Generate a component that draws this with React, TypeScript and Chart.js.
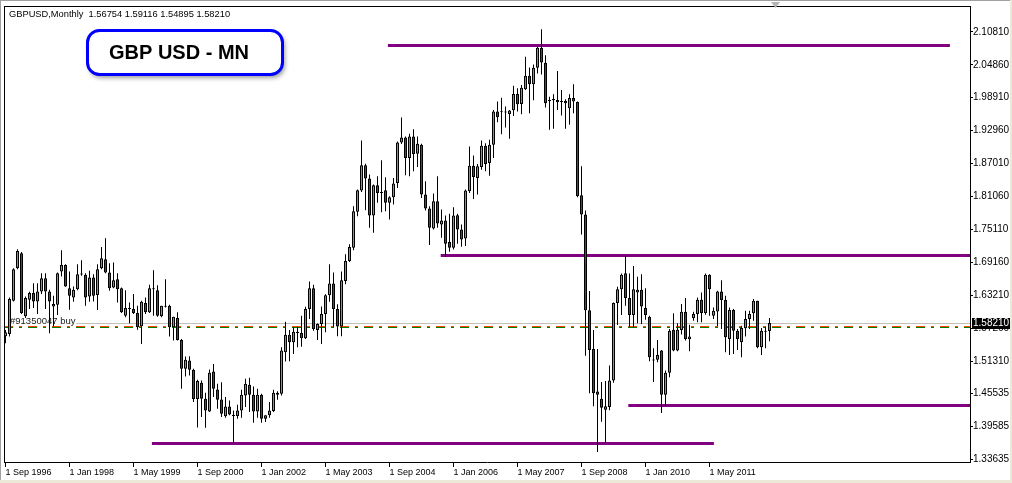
import { useEffect, useRef } from "react";
import { Chart, registerables } from "chart.js";

Chart.register(...registerables);

// Monthly GBPUSD bars, first bar = Sep 1996
const opens = [
  1.5581, 1.5623, 1.6223, 1.6811, 1.7081, 1.5941, 1.6241, 1.6361, 1.6211, 1.6391,
  1.6631, 1.6391, 1.6121, 1.6151, 1.6751, 1.6871, 1.6451, 1.6283, 1.6433, 1.6703,
  1.6691, 1.6301, 1.6643, 1.6325, 1.6811, 1.6973, 1.6733, 1.6463, 1.6613, 1.6451,
  1.5953, 1.6091, 1.6073, 1.6001, 1.5761, 1.6181, 1.6013, 1.6445, 1.6415, 1.5941,
  1.6127, 1.6133, 1.5743, 1.5911, 1.5515, 1.4993, 1.5143, 1.4975, 1.4447, 1.4740,
  1.4452, 1.4224, 1.4944, 1.4620, 1.4440, 1.4134, 1.4314, 1.4164, 1.4140, 1.4242,
  1.4512, 1.4704, 1.4524, 1.4224, 1.4524, 1.4092, 1.4152, 1.4230, 1.4560, 1.4542,
  1.5292, 1.5610, 1.5472, 1.5664, 1.5640, 1.5544, 1.6072, 1.6450, 1.5694, 1.5802,
  1.5982, 1.6324, 1.6534, 1.6072, 1.5760, 1.6582, 1.6942, 1.7182, 1.7830, 1.8214,
  1.8670, 1.8430, 1.7764, 1.8310, 1.8184, 1.8220, 1.7992, 1.8094, 1.8352, 1.9083,
  1.9173, 1.8801, 1.9191, 1.8879, 1.9041, 1.8141, 1.7889, 1.7529, 1.8021, 1.7601,
  1.7673, 1.7283, 1.7181, 1.7769, 1.7511, 1.7349, 1.8201, 1.8663, 1.8441, 1.8639,
  1.9023, 1.8711, 1.9041, 1.9641, 1.9635, 1.9641, 1.9599, 1.9665, 1.9959, 1.9779,
  2.0043, 2.0289, 2.0133, 2.0433, 2.0793, 2.0523, 1.9851, 1.9845, 1.9851, 1.9833,
  1.9833, 1.9701, 1.9887, 1.9815, 1.8129, 1.7781, 1.6053, 1.5351, 1.4585, 1.4453,
  1.4255, 1.4303, 1.4783, 1.6181, 1.6433, 1.6721, 1.6271, 1.5965, 1.6373, 1.6421,
  1.6091, 1.5935, 1.5161, 1.5155, 1.5323, 1.4525, 1.4921, 1.5701, 1.5323, 1.5695,
  1.6025, 1.5527, 1.5905, 1.5983, 1.6241, 1.6001, 1.6691, 1.5953, 1.6031, 1.6391,
  1.6235, 1.5533, 1.6055, 1.5683, 1.5473, 1.5725, 1.5893, 1.5995, 1.6223, 1.5383,
  1.5665, 1.56754,
];

const highs = [
  1.5695, 1.6283, 1.6811, 1.7153, 1.7105, 1.6301, 1.6385, 1.6541, 1.6541, 1.6721,
  1.6721, 1.6421, 1.6313, 1.6733, 1.7135, 1.6883, 1.6751, 1.6481, 1.6883, 1.6955,
  1.6721, 1.6763, 1.6703, 1.6883, 1.7195, 1.7351, 1.6901, 1.6913, 1.6721, 1.6463,
  1.6415, 1.6193, 1.6343, 1.6133, 1.6223, 1.6283, 1.6511, 1.6775, 1.6505, 1.6133,
  1.6613, 1.6151, 1.5935, 1.6013, 1.5533, 1.5215, 1.5221, 1.4993, 1.4795, 1.4782,
  1.4560, 1.4980, 1.5082, 1.4722, 1.4752, 1.4482, 1.4422, 1.4242, 1.4344, 1.4614,
  1.4812, 1.4830, 1.4674, 1.4632, 1.4542, 1.4152, 1.4392, 1.4614, 1.4590, 1.5382,
  1.5844, 1.5694, 1.5742, 1.5754, 1.5952, 1.6114, 1.6570, 1.6510, 1.5814, 1.6120,
  1.6342, 1.6882, 1.6732, 1.6162, 1.6750, 1.7062, 1.7242, 1.7932, 1.8232, 1.9120,
  1.8700, 1.8502, 1.8322, 1.8472, 1.8760, 1.8454, 1.8112, 1.8442, 1.9102, 1.9533,
  1.9191, 1.9239, 1.9323, 1.9191, 1.9059, 1.8381, 1.7931, 1.8159, 1.8471, 1.7871,
  1.7763, 1.7793, 1.7913, 1.7793, 1.7601, 1.8231, 1.9011, 1.8849, 1.8693, 1.9119,
  1.9071, 1.9131, 1.9671, 1.9821, 1.9893, 1.9731, 1.9671, 2.0109, 2.0061, 2.0121,
  2.0631, 2.0439, 2.0493, 2.0811, 2.1129, 2.0661, 1.9911, 1.9953, 2.0373, 2.0031,
  1.9863, 1.9953, 2.0133, 1.9821, 1.8651, 1.7853, 1.6401, 1.5693, 1.5351, 1.4753,
  1.4771, 1.5053, 1.6193, 1.6475, 1.6715, 1.7033, 1.6715, 1.6853, 1.6655, 1.6703,
  1.6451, 1.5953, 1.5365, 1.5515, 1.5335, 1.4963, 1.5713, 1.5995, 1.5815, 1.6163,
  1.6271, 1.5791, 1.6025, 1.6283, 1.6373, 1.6715, 1.6703, 1.6103, 1.6403, 1.6595,
  1.6313, 1.6103, 1.6073, 1.5713, 1.5773, 1.6043, 1.6043, 1.6253, 1.6223, 1.5731,
  1.5755, 1.59116,
];

const lows = [
  1.5455, 1.5575, 1.6211, 1.6793, 1.5983, 1.5911, 1.6073, 1.6091, 1.5983, 1.6343,
  1.6073, 1.5635, 1.5761, 1.5965, 1.6661, 1.6475, 1.6061, 1.6205, 1.6415, 1.6673,
  1.6133, 1.6205, 1.6211, 1.6055, 1.6793, 1.6721, 1.6403, 1.6451, 1.6193, 1.6001,
  1.5923, 1.5815, 1.5983, 1.5701, 1.5443, 1.5983, 1.6001, 1.5953, 1.5935, 1.5923,
  1.6103, 1.5575, 1.5503, 1.5503, 1.4633, 1.4855, 1.4873, 1.4393, 1.3931, 1.4122,
  1.3930, 1.4212, 1.4482, 1.4272, 1.4122, 1.4110, 1.4152, 1.3654, 1.4092, 1.4110,
  1.4302, 1.4212, 1.4020, 1.4110, 1.4020, 1.4032, 1.4110, 1.4212, 1.4434, 1.4512,
  1.5124, 1.5130, 1.5262, 1.5382, 1.5394, 1.5532, 1.5892, 1.5682, 1.5514, 1.5442,
  1.5652, 1.6204, 1.5742, 1.5580, 1.5580, 1.6522, 1.6924, 1.7134, 1.7752, 1.8190,
  1.7860, 1.7542, 1.7452, 1.7992, 1.7824, 1.7842, 1.7692, 1.7962, 1.8262, 1.9053,
  1.8489, 1.8471, 1.8561, 1.8639, 1.8081, 1.7853, 1.7229, 1.7511, 1.7541, 1.7361,
  1.7013, 1.7109, 1.7151, 1.7253, 1.7199, 1.7211, 1.8171, 1.8063, 1.8141, 1.8591,
  1.8561, 1.8483, 1.8801, 1.9449, 1.9233, 1.9353, 1.9149, 1.9563, 1.9641, 1.9593,
  2.0031, 1.9611, 1.9845, 2.0331, 2.0313, 1.9713, 1.9311, 1.9329, 1.9671, 1.9569,
  1.9329, 1.9401, 1.9611, 1.8093, 1.7421, 1.5231, 1.4553, 1.4319, 1.3490, 1.4035,
  1.3652, 1.4245, 1.4741, 1.5785, 1.5965, 1.6133, 1.5743, 1.5743, 1.5815, 1.5803,
  1.5881, 1.5131, 1.4753, 1.5113, 1.4195, 1.4321, 1.4843, 1.5311, 1.5311, 1.5611,
  1.5503, 1.5311, 1.5863, 1.5833, 1.5833, 1.5971, 1.5953, 1.5893, 1.5761, 1.5713,
  1.5293, 1.5245, 1.5263, 1.5335, 1.5203, 1.5575, 1.5713, 1.5863, 1.5365, 1.5245,
  1.5365, 1.54895,
];

const closes = [
  1.5653, 1.6253, 1.6793, 1.7123, 1.6001, 1.6271, 1.6361, 1.6211, 1.6391, 1.6631,
  1.6391, 1.6211, 1.6163, 1.6721, 1.6871, 1.6481, 1.6313, 1.6421, 1.6703, 1.6697,
  1.6283, 1.6643, 1.6313, 1.6793, 1.6991, 1.6733, 1.6451, 1.6595, 1.6433, 1.6013,
  1.6091, 1.6073, 1.6001, 1.5743, 1.6205, 1.6013, 1.6451, 1.6433, 1.5953, 1.6133,
  1.6115, 1.5743, 1.5935, 1.5515, 1.4993, 1.5155, 1.4975, 1.4447, 1.4771, 1.4452,
  1.4242, 1.4920, 1.4632, 1.4434, 1.4182, 1.4314, 1.4170, 1.4140, 1.4242, 1.4524,
  1.4722, 1.4524, 1.4224, 1.4524, 1.4092, 1.4152, 1.4242, 1.4560, 1.4524, 1.5322,
  1.5610, 1.5472, 1.5664, 1.5640, 1.5544, 1.6072, 1.6450, 1.5712, 1.5802, 1.5982,
  1.6324, 1.6534, 1.6072, 1.5760, 1.6594, 1.6942, 1.7194, 1.7842, 1.8220, 1.8670,
  1.8430, 1.7764, 1.8310, 1.8172, 1.8172, 1.7992, 1.8094, 1.8340, 1.9084, 1.9173,
  1.8801, 1.9191, 1.8873, 1.9059, 1.8141, 1.7889, 1.7541, 1.8021, 1.7619, 1.7673,
  1.7253, 1.7181, 1.7763, 1.7511, 1.7331, 1.8213, 1.8663, 1.8459, 1.8651, 1.9023,
  1.8693, 1.9041, 1.9641, 1.9539, 1.9629, 1.9623, 1.9659, 1.9959, 1.9773, 2.0073,
  2.0289, 2.0133, 2.0433, 2.0793, 2.0529, 1.9791, 1.9833, 1.9869, 1.9809, 1.9815,
  1.9791, 1.9887, 1.9821, 1.8111, 1.7781, 1.6053, 1.5333, 1.4553, 1.4525, 1.4291,
  1.4315, 1.4783, 1.6181, 1.6433, 1.6691, 1.6271, 1.5965, 1.6433, 1.6421, 1.6121,
  1.5965, 1.5203, 1.5143, 1.5245, 1.4525, 1.4921, 1.5683, 1.5323, 1.5701, 1.6025,
  1.5533, 1.5575, 1.5983, 1.6241, 1.6001, 1.6691, 1.6433, 1.6043, 1.6391, 1.6235,
  1.5563, 1.6055, 1.5683, 1.5533, 1.5731, 1.5893, 1.5983, 1.6223, 1.5383, 1.5683,
  1.5683, 1.58210,
];

// Time axis: bar index of each date label
const dateTickIndex = [0, 16, 32, 48, 64, 80, 96, 112, 128, 144, 160, 176];
const dateTickLabels = [
  "1 Sep 1996", "1 Jan 1998", "1 May 1999", "1 Sep 2000", "1 Jan 2002", "1 May 2003",
  "1 Sep 2004", "1 Jan 2006", "1 May 2007", "1 Sep 2008", "1 Jan 2010", "1 May 2011",
];

// Price axis
const priceTicks = [
  2.1081, 2.0486, 1.9891, 1.9296, 1.8701, 1.8106, 1.7511,
  1.6916, 1.6321, 1.5726, 1.5131, 1.45535, 1.39585, 1.33635,
];

// Support / resistance levels (price, first bar, last bar)
const levelPrices = [2.0835, 1.7046, 1.4335, 1.3646];
const levelFrom = [95.6, 108.8, 155.7, 36.6];
const levelTo = [236.1, 245, 245, 177.1];

const bidPrice = 1.5821;
const orderPrice = 1.5762;
const orderLabel = "#91350047 buy";
const headerText = "GBPUSD,Monthly  1.56754 1.59116 1.54895 1.58210";
const titleText = "GBP USD - MN";

const X_MIN = -0.375;
const X_MAX = 241.125;
const Y_MIN = 1.33095;
const Y_MAX = 2.15487;

const FONT = "'Liberation Sans', Arial, sans-serif";
const BULL = "#32CD32";
const BEAR = "#FF0000";
const LEVEL = "#800080";

const terminalDecor = {
  id: "terminalDecor",
  beforeDraw(chart: any) {
    const { ctx, width, height } = chart;
    ctx.save();
    ctx.fillStyle = "#ECE9D8";
    ctx.fillRect(0, 0, width, height);
    ctx.fillStyle = "#FFFFFF";
    ctx.fillRect(0, 0, width - 2, height - 3);
    ctx.fillStyle = "#A0A0A0";
    ctx.fillRect(0, 0, width - 2, 1);
    ctx.fillRect(0, 0, 1, height - 3);
    ctx.restore();
  },
  beforeDatasetsDraw(chart: any) {
    const { ctx, chartArea: a, scales } = chart;
    const xs = scales.x;
    const ys = scales.y;
    ctx.save();
    ctx.beginPath();
    ctx.rect(a.left, a.top, a.right - a.left, a.bottom - a.top);
    ctx.clip();

    // order description and bid line
    ctx.font = `9.5px ${FONT}`;
    ctx.fillStyle = "#202020";
    ctx.textBaseline = "alphabetic";
    const by = Math.round(ys.getPixelForValue(bidPrice)) + 0.5;
    ctx.fillText(orderLabel, a.left + 6, by);
    const tw = ctx.measureText(orderLabel).width;
    ctx.strokeStyle = "#C0C0C0";
    ctx.lineWidth = 1;
    ctx.beginPath();
    ctx.moveTo(a.left + 6 + tw + 1, by);
    ctx.lineTo(a.right, by);
    ctx.stroke();

    // order line (dash-dot, two tone)
    const oy = Math.round(ys.getPixelForValue(orderPrice)) + 0.5;
    ctx.setLineDash([9, 6, 3, 6]);
    ctx.strokeStyle = "#FF4500";
    ctx.beginPath();
    ctx.moveTo(a.left, oy);
    ctx.lineTo(a.right, oy);
    ctx.stroke();
    ctx.strokeStyle = "#008000";
    ctx.beginPath();
    ctx.moveTo(a.left, oy + 1);
    ctx.lineTo(a.right, oy + 1);
    ctx.stroke();
    ctx.setLineDash([]);

    // horizontal levels
    ctx.strokeStyle = LEVEL;
    ctx.lineWidth = 3;
    levelPrices.forEach((p, k) => {
      const ly = Math.round(ys.getPixelForValue(p)) + 0.5;
      ctx.beginPath();
      ctx.moveTo(xs.getPixelForValue(levelFrom[k]), ly);
      ctx.lineTo(xs.getPixelForValue(levelTo[k]), ly);
      ctx.stroke();
    });
    ctx.restore();
  },
  afterDraw(chart: any) {
    const { ctx, chartArea: a, scales } = chart;
    const ys = scales.y;
    ctx.save();

    // frame (left and top)
    ctx.fillStyle = "#000000";
    ctx.fillRect(a.left, a.top, 1, a.bottom - a.top);
    ctx.fillRect(a.left, a.top, a.right - a.left, 1);

    // chart shift marker
    ctx.fillStyle = "#B4B4B4";
    ctx.beginPath();
    ctx.moveTo(771, 2);
    ctx.lineTo(780, 2);
    ctx.lineTo(775.5, 8);
    ctx.closePath();
    ctx.fill();

    // current price box on the price scale
    const py = Math.round(ys.getPixelForValue(bidPrice));
    ctx.fillStyle = "#000000";
    ctx.fillRect(a.right + 2, py - 5, 38, 11);
    ctx.fillStyle = "#FFFFFF";
    ctx.font = `10px ${FONT}`;
    ctx.textBaseline = "middle";
    ctx.textAlign = "left";
    ctx.fillText(bidPrice.toFixed(5), a.right + 3, py + 0.5);

    // header line
    ctx.fillStyle = "#000000";
    ctx.textBaseline = "alphabetic";
    ctx.font = `9.3px ${FONT}`;
    ctx.fillText(headerText, a.left + 5, 16.5);

    // title label
    ctx.save();
    ctx.shadowColor = "rgba(0,0,0,0.45)";
    ctx.shadowBlur = 5;
    ctx.shadowOffsetX = 2;
    ctx.shadowOffsetY = 3;
    ctx.beginPath();
    ctx.roundRect(87.5, 30.5, 195, 44, 12);
    ctx.fillStyle = "#FFFFFF";
    ctx.fill();
    ctx.restore();
    ctx.beginPath();
    ctx.roundRect(87.5, 30.5, 195, 44, 12);
    ctx.strokeStyle = "#0000FF";
    ctx.lineWidth = 3;
    ctx.stroke();
    ctx.fillStyle = "#000000";
    ctx.font = `bold 20px ${FONT}`;
    ctx.textAlign = "center";
    ctx.fillText(titleText, 179, 59);
    ctx.restore();
  },
};

export default function App() {
  const canvasRef = useRef<HTMLCanvasElement | null>(null);

  useEffect(() => {
    const canvas = canvasRef.current;
    if (!canvas) return;

    const bodies = opens.map((o, i) => ({ x: i, y: [o, closes[i]] }));
    const wicks = lows.map((l, i) => ({ x: i, y: [l, highs[i]] }));

    const chart = new Chart(canvas, {
      type: "bar",
      data: {
        datasets: [
          {
            label: "body",
            data: bodies as any,
            grouped: false,
            barThickness: 3,
            inflateAmount: 0,
            minBarLength: 1,
            borderWidth: 1,
            borderSkipped: false,
            borderColor: "#000000",
            backgroundColor: (c: any) =>
              closes[c.dataIndex] >= opens[c.dataIndex] ? BULL : BEAR,
          } as any,
          {
            label: "wick",
            data: wicks as any,
            grouped: false,
            barThickness: 1,
            inflateAmount: 0,
            borderWidth: 0,
            backgroundColor: "#000000",
          } as any,
        ],
      },
      options: {
        responsive: false,
        animation: false,
        devicePixelRatio: 1,
        layout: { padding: { left: 4, top: 4, right: 0, bottom: 0 } },
        plugins: {
          legend: { display: false },
          tooltip: { enabled: false },
        },
        scales: {
          x: {
            type: "linear",
            position: "bottom",
            min: X_MIN,
            max: X_MAX,
            offset: false,
            bounds: "data",
            afterBuildTicks: (s: any) => {
              s.ticks = dateTickIndex.map((v) => ({ value: v }));
            },
            afterFit: (s: any) => {
              s.height = 21;
            },
            ticks: {
              autoSkip: false,
              maxRotation: 0,
              align: "start",
              padding: 0,
              color: "#000000",
              font: { family: FONT, size: 9 },
              callback: (_v: any, i: number) => dateTickLabels[i],
            },
            grid: {
              drawOnChartArea: false,
              drawTicks: true,
              tickLength: 5,
              tickColor: "#000000",
              offset: false,
            },
            border: { display: true, color: "#000000", width: 1 },
          } as any,
          y: {
            type: "linear",
            position: "right",
            min: Y_MIN,
            max: Y_MAX,
            beginAtZero: false,
            bounds: "data",
            afterBuildTicks: (s: any) => {
              s.ticks = priceTicks.map((v) => ({ value: v }));
            },
            afterFit: (s: any) => {
              s.width = 42;
            },
            ticks: {
              autoSkip: false,
              padding: 0,
              color: "#000000",
              font: { family: FONT, size: 10 },
              callback: (v: any) => Number(v).toFixed(5),
            },
            grid: {
              drawOnChartArea: false,
              drawTicks: true,
              tickLength: 3,
              tickColor: "#000000",
            },
            border: { display: true, color: "#000000", width: 1 },
          } as any,
        },
      },
      plugins: [terminalDecor],
    });

    return () => chart.destroy();
  }, []);

  return (
    <div style={{ position: "fixed", left: 0, top: 0, width: 1012, height: 483 }}>
      <canvas ref={canvasRef} width={1012} height={483} />
    </div>
  );
}
